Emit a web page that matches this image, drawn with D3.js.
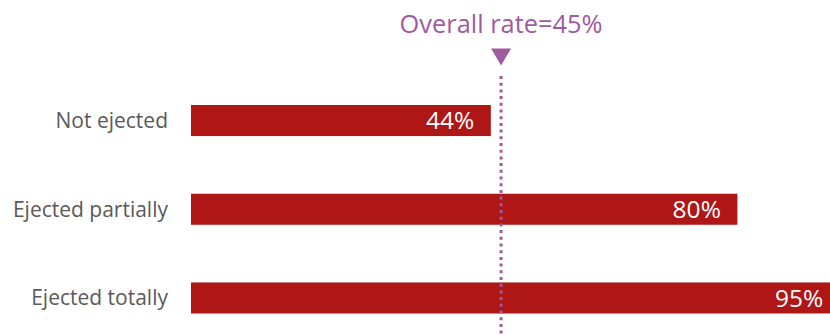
<!DOCTYPE html>
<html><head><meta charset="utf-8">
<script src="https://cdn.jsdelivr.net/npm/d3@7"></script>
<style>html,body{margin:0;padding:0;background:#fff;overflow:hidden}</style>
</head><body>
<svg id="c" width="830" height="335"></svg>
<script>
const categories = ["Not ejected", "Ejected partially", "Ejected totally"];
const values = [43.9, 80.0, 95.0];
const valueLabels = ["44%", "80%", "95%"];
const overallValue = 45.4;
const overallLabel = "Overall rate=45%";

const svg = d3.select("#c");
const font = "'Open Sans', sans-serif";
const x = d3.scaleLinear().domain([0, 100]).range([191, 874]);
const y = d3.scaleBand().domain(categories).range([105, 313.5]).paddingInner(0.65).paddingOuter(0);

const barColor = "#AF1616";
const purple = "#9E5B9E";

svg.append("g").selectAll("rect").data(categories).join("rect")
  .attr("x", x(0)).attr("y", d => y(d))
  .attr("width", (d, i) => x(values[i]) - x(0))
  .attr("height", y.bandwidth())
  .attr("fill", barColor);

svg.append("g").selectAll("text").data(categories).join("text")
  .attr("x", 168).attr("y", d => y(d) + y.bandwidth() / 2)
  .attr("dy", "0.35em").attr("text-anchor", "end")
  .attr("font-family", font).attr("font-size", 21)
  .attr("fill", "#595959").text(d => d);

svg.append("g").selectAll("text").data(categories).join("text")
  .attr("x", (d, i) => x(values[i]) - 16.5).attr("y", d => y(d) + y.bandwidth() / 2)
  .attr("dy", "0.36em").attr("text-anchor", "end")
  .attr("font-family", font).attr("font-size", 24.5)
  .attr("fill", "#ffffff").text((d, i) => valueLabels[i]);

const ox = x(overallValue);
svg.append("line").attr("x1", ox).attr("x2", ox).attr("y1", 76).attr("y2", 335)
  .attr("stroke", purple).attr("stroke-width", 3).attr("stroke-dasharray", "3,3.7");
svg.append("path").attr("d", d3.line()([[ox - 10, 48.5], [ox + 10, 48.5], [ox, 65.5]]) + "Z")
  .attr("fill", purple);
svg.append("text").attr("x", ox).attr("y", 33.3).attr("text-anchor", "middle")
  .attr("font-family", font).attr("font-size", 25.4)
  .attr("fill", purple).text(overallLabel);
</script>
</body></html>
